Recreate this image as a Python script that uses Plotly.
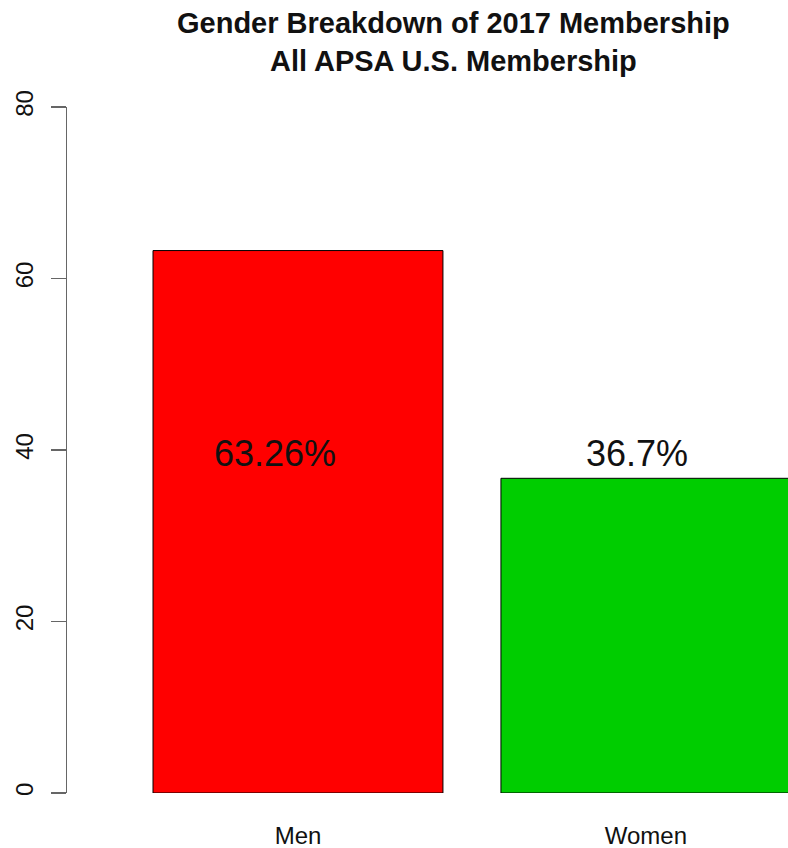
import plotly.graph_objects as go

categories = ["Men", "Women"]
percent = [63.26, 36.7]
labels = ["63.26%", "36.7%"]
bar_colors = ["#FF0000", "#00CD00"]
y_ticks = [0, 20, 40, 60, 80]
label_y = 40
title_text = "Gender Breakdown of 2017 Membership<br>All APSA U.S. Membership"

# bar centres in R barplot units (width 1, space 0.2)
x_pos = [0.7, 1.9]
# where the percentage labels were written (R user coords)
label_x = [0.62, 1.87]

FONT = "Liberation Sans, Arial, Helvetica, sans-serif"

fig = go.Figure()
fig.add_trace(go.Bar(
    x=x_pos, y=percent, width=1,
    marker=dict(color=bar_colors, line=dict(color="black", width=1)),
    hoverinfo="skip", showlegend=False,
))

for lx, txt in zip(label_x, labels):
    fig.add_annotation(
        x=lx, y=label_y, xref="x", yref="y", text=txt, showarrow=False,
        xanchor="center", yanchor="middle", yshift=-3,
        font=dict(family=FONT, size=36, color="#111"),
    )

fig.add_annotation(
    text="<b>" + title_text + "</b>",
    xref="paper", yref="paper", x=0.5367, y=1.0948,
    xanchor="center", yanchor="middle", showarrow=False, align="center",
    font=dict(family=FONT, size=29, color="#111"),
)

fig.update_layout(
    width=788, height=848,
    margin=dict(l=67, r=0, t=107, b=55),
    paper_bgcolor="white", plot_bgcolor="white",
    font=dict(family=FONT, color="#111"),
    xaxis=dict(
        range=[-0.0966, 2.39], tickvals=x_pos, ticktext=categories,
        showgrid=False, zeroline=False, showline=False, ticks="",
        tickfont=dict(size=24), ticklabelstandoff=26,
    ),
    yaxis=dict(
        range=[0, 80], tickvals=y_ticks, showgrid=False, zeroline=False,
        showline=True, linecolor="#666", linewidth=1.5,
        ticks="outside", ticklen=15, tickcolor="#666", tickwidth=1.5,
        tickangle=-90, tickfont=dict(size=24), ticklabelstandoff=8,
    ),
)

fig.write_html(
    "out.html",
    config={"displayModeBar": False, "staticPlot": True},
    post_script="document.body.style.margin='0';document.body.style.overflow='hidden';",
)
